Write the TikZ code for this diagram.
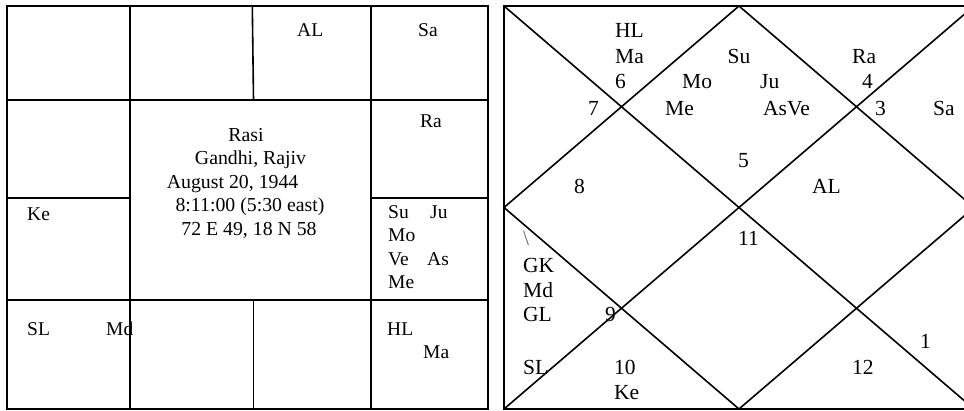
\documentclass[tikz,border=0pt]{standalone}
\usepackage{fontspec}
\setmainfont{Liberation Serif}

\begin{document}
\begin{tikzpicture}[x=1pt,y=-1pt,
    chart/.style={line width=1.6pt},
    lab/.style={anchor=base west,inner sep=0pt,font=\fontsize{19.5}{23}\selectfont},
    info/.style={anchor=base,inner sep=0pt,font=\fontsize{19.8}{23}\selectfont},
    num/.style={anchor=base west,inner sep=0pt,font=\fontsize{21.5}{25}\selectfont}]
    \useasboundingbox (0,0) rectangle (964,410);

    % Rasi square chart
    \draw[chart] (7,6) rectangle (488,409);
    \draw[chart] (130,6) -- (130,409);
    \draw[chart] (371,6) -- (371,409);
    \draw[chart] (7,100) -- (488,100);
    \draw[chart] (7,300) -- (488,300);
    \draw[chart] (7,198) -- (130,198);
    \draw[chart] (371,198) -- (488,198);
    \draw[chart] (252.3,6) -- (253.5,100);
    \draw[chart] (253.3,300) -- (253.3,409);

    \node[lab] (sqAL) at (297,36) {AL};
    \node[lab] (sqSa) at (418,36) {Sa};
    \node[lab] (sqRa) at (420,127) {Ra};
    \node[lab] (sqKe) at (27,220) {Ke};
    \node[lab] (sqSu) at (388,218) {Su};
    \node[lab] (sqJu) at (430,218) {Ju};
    \node[lab] (sqMo) at (388,241.5) {Mo};
    \node[lab] (sqVe) at (388,265) {Ve};
    \node[lab] (sqAs) at (427,265) {As};
    \node[lab] (sqMe) at (388,288) {Me};
    \node[lab] (sqSL) at (27,335) {SL};
    \node[lab] (sqMd) at (106,335) {Md};
    \node[lab] (sqHL) at (387,335) {HL};
    \node[lab] (sqMa) at (423,358) {Ma};

    \node[info] (iRasi) at (246,141) {Rasi};
    \node[info] (iName) at (250.5,164) {Gandhi, Rajiv};
    \node[info,anchor=base west] (iDate) at (166.7,188) {August 20, 1944};
    \node[info] (iTime) at (250,211) {8:11:00 (5:30 east)};
    \node[info] (iPlace) at (249,235) {72 E 49, 18 N 58};

    % North Indian diamond chart
    \coordinate (rNW) at (504,6);
    \coordinate (rN) at (739,6);
    \coordinate (rNE) at (974,6);
    \coordinate (rE) at (974,207.5);
    \coordinate (rSE) at (974,409);
    \coordinate (rS) at (739,409);
    \coordinate (rSW) at (504,409);
    \coordinate (rW) at (504,207.5);

    \draw[chart] (rNW) rectangle (rSE);
    \draw[chart] (rN) -- (rE) -- (rS) -- (rW) -- cycle;
    \draw[chart] (rNW) -- (rSE);
    \draw[chart] (rNE) -- (rSW);

    \node[num] (dHL) at (615,37.5) {HL};
    \node[num] (dMa) at (615,63) {Ma};
    \node[num] (d6) at (615,88) {6};
    \node[num] (d7) at (588,115) {7};
    \node[num] (dSu) at (727.5,63) {Su};
    \node[num] (dMo) at (682,88) {Mo};
    \node[num] (dMe) at (665,115) {Me};
    \node[num] (dJu) at (760,88) {Ju};
    \node[num] (dAsVe) at (763,115) {AsVe};
    \node[num] (dRa) at (852,63) {Ra};
    \node[num] (d4) at (862,88) {4};
    \node[num] (d3) at (875,115) {3};
    \node[num] (dSa) at (933,115) {Sa};
    \node[num] (d5) at (738,167) {5};
    \node[num] (d8) at (574,193) {8};
    \node[num] (dAL) at (812,193) {AL};
    \node[num,text=black!60] (dBs) at (523,245) {\textbackslash};
    \node[num] (d11) at (738,245) {11};
    \node[num] (dGK) at (523,272) {GK};
    \node[num] (dMd) at (523,297) {Md};
    \node[num] (dGL) at (523,321) {GL};
    \node[num] (d9) at (605,321) {9};
    \node[num] (d1) at (920,348) {1};
    \node[num] (dSL) at (523,374) {SL};
    \node[num] (d10) at (614,374) {10};
    \node[num] (d12) at (852,374) {12};
    \node[num] (dKe) at (614,399) {Ke};
\end{tikzpicture}
\end{document}
